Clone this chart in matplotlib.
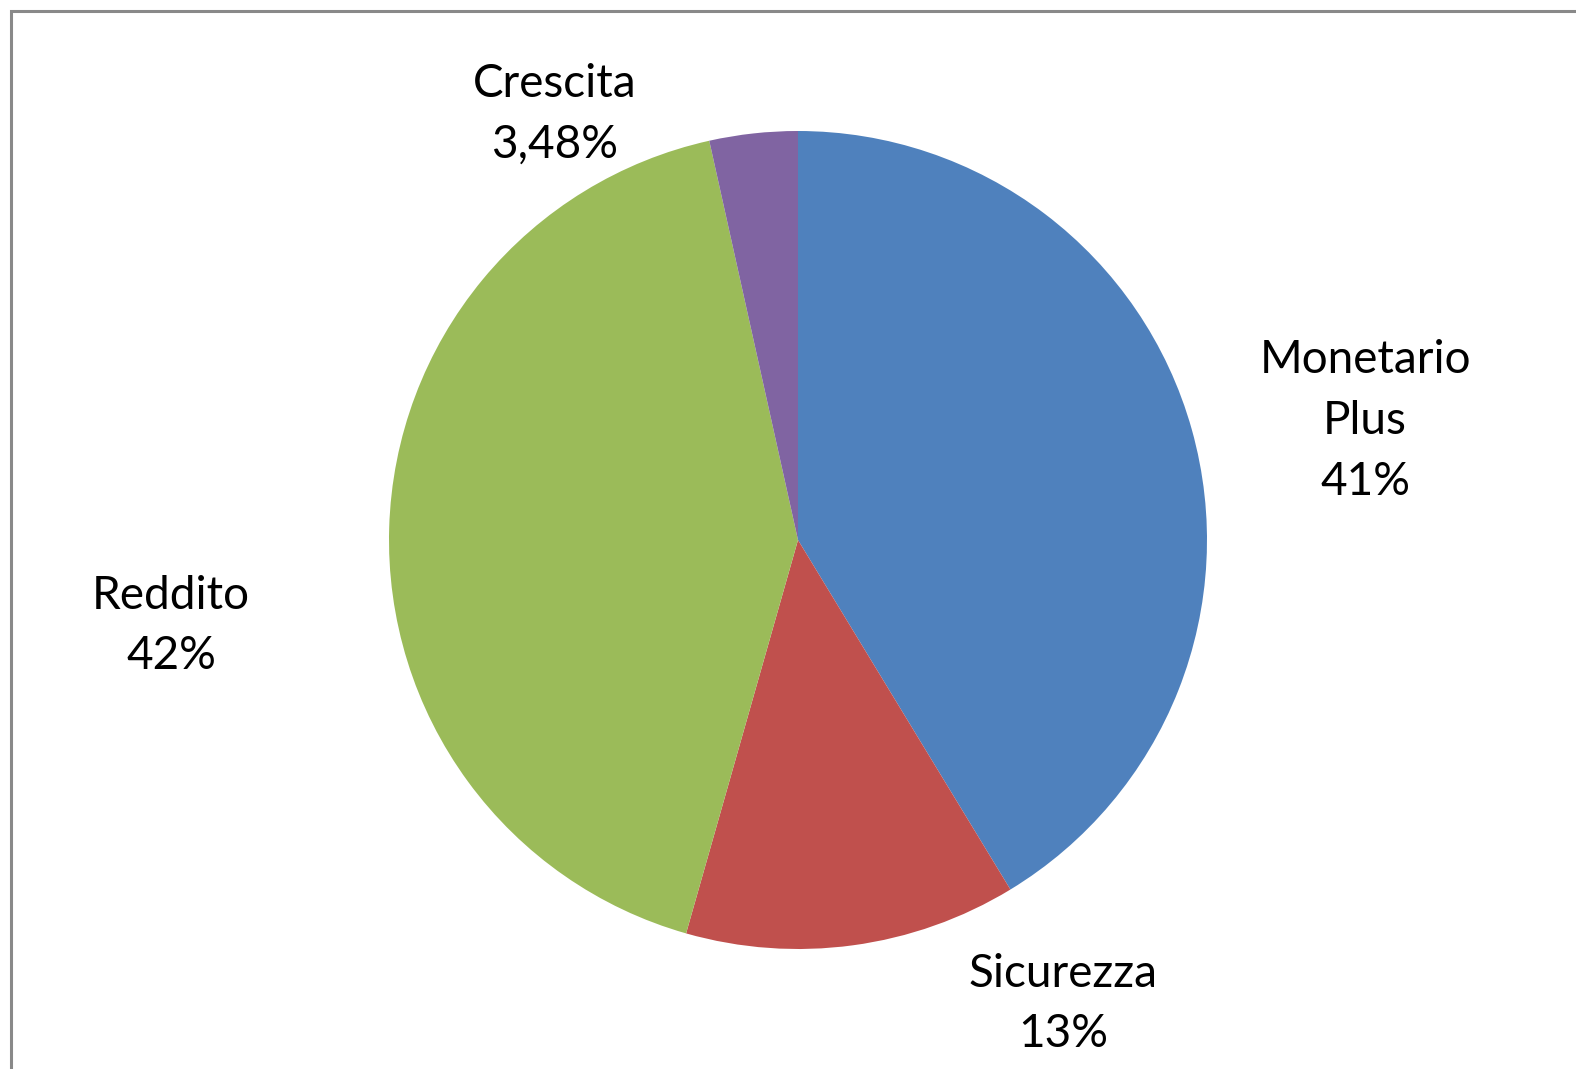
import matplotlib
matplotlib.use("Agg")
import matplotlib.pyplot as plt
from matplotlib.patches import Rectangle

# -------------------------------------------------
# Data
# -------------------------------------------------
categories = ["Monetario\nPlus", "Sicurezza", "Reddito", "Crescita"]
values = [41.3, 13.1, 42.1, 3.48]
pct_labels = ["41%", "13%", "42%", "3,48%"]
colors = ["#4F81BD", "#C0504D", "#9BBB59", "#8064A2"]

plt.rcParams["font.family"] = ["Lato", "DejaVu Sans"]

W, H = 1576, 1069
fig = plt.figure(figsize=(W / 100, H / 100), dpi=100)

# pie axes: centre (798, 540) px, radius 409 px
cx, cy, r = 798, 540, 409
ax = fig.add_axes([(cx - r) / W, (H - cy - r) / H, 2 * r / W, 2 * r / H])

ax.pie(
    values,
    colors=colors,
    startangle=90,
    counterclock=False,
    wedgeprops=dict(linewidth=0),
)
ax.set_xlim(-1, 1)
ax.set_ylim(-1, 1)
ax.set_aspect("equal")
ax.axis("off")

# -------------------------------------------------
# Labels (pixel positions of label centres)
# -------------------------------------------------
label_pos = [(1365, 421), (1063, 1004), (171, 626), (555, 114)]
for cat, pct, (px, py) in zip(categories, pct_labels, label_pos):
    fig.text(
        px / W, 1 - py / H,
        f"{cat}\n{pct}",
        ha="center", va="center",
        fontsize=33, linespacing=1.55,
        color="black",
    )

# -------------------------------------------------
# Chart border (cut off at right and bottom)
# -------------------------------------------------
fig.add_artist(Rectangle(
    (10.5 / W, -0.1), 2, (H - 10.5) / H + 0.1,
    transform=fig.transFigure, fill=False,
    edgecolor="#898989", linewidth=2.2,
))

fig.savefig("out.png", dpi=100)
